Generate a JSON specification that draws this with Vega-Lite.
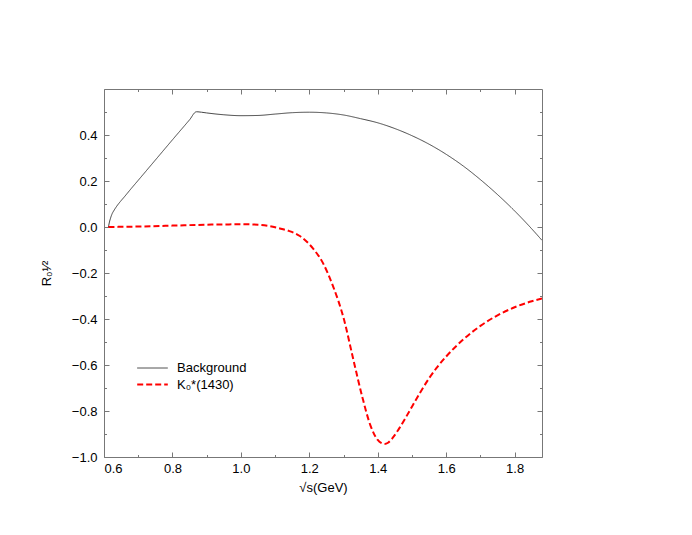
{
  "$schema": "https://vega.github.io/schema/vega-lite/v6.json",
  "autosize": "none",
  "padding": {"left": 104, "top": 89, "right": 150, "bottom": 78},
  "width": 438,
  "height": 368,
  "config": {
    "view": {"stroke": "#777", "strokeWidth": 1},
    "font": "Liberation Sans",
    "axis": {
      "domain": false,
      "grid": false,
      "tickColor": "#777",
      "labelFont": "Liberation Sans",
      "labelFontSize": 13,
      "labelColor": "#000",
      "titleFont": "Liberation Sans",
      "titleFontSize": 13,
      "titleFontWeight": "normal",
      "titleColor": "#000"
    },
    "legend": {"labelFont": "Liberation Sans", "labelFontSize": 13, "labelColor": "#000"}
  },
  "data": {"values": [
    {"x": 0.613, "y": 0.0, "s": "Background"},
    {"x": 0.614, "y": 0.008, "s": "Background"},
    {"x": 0.616, "y": 0.022, "s": "Background"},
    {"x": 0.619, "y": 0.038, "s": "Background"},
    {"x": 0.623, "y": 0.055, "s": "Background"},
    {"x": 0.63, "y": 0.074, "s": "Background"},
    {"x": 0.638, "y": 0.092, "s": "Background"},
    {"x": 0.648, "y": 0.111, "s": "Background"},
    {"x": 0.66, "y": 0.132, "s": "Background"},
    {"x": 0.68, "y": 0.168, "s": "Background"},
    {"x": 0.7, "y": 0.203, "s": "Background"},
    {"x": 0.75, "y": 0.291, "s": "Background"},
    {"x": 0.8, "y": 0.379, "s": "Background"},
    {"x": 0.85, "y": 0.466, "s": "Background"},
    {"x": 0.87, "y": 0.501, "s": "Background"},
    {"x": 0.885, "y": 0.499, "s": "Background"},
    {"x": 0.9, "y": 0.496, "s": "Background"},
    {"x": 0.95, "y": 0.488, "s": "Background"},
    {"x": 1.0, "y": 0.484, "s": "Background"},
    {"x": 1.05, "y": 0.485, "s": "Background"},
    {"x": 1.1, "y": 0.491, "s": "Background"},
    {"x": 1.15, "y": 0.497, "s": "Background"},
    {"x": 1.2, "y": 0.499, "s": "Background"},
    {"x": 1.25, "y": 0.496, "s": "Background"},
    {"x": 1.3, "y": 0.487, "s": "Background"},
    {"x": 1.35, "y": 0.471, "s": "Background"},
    {"x": 1.4, "y": 0.453, "s": "Background"},
    {"x": 1.45, "y": 0.428, "s": "Background"},
    {"x": 1.5, "y": 0.397, "s": "Background"},
    {"x": 1.55, "y": 0.36, "s": "Background"},
    {"x": 1.6, "y": 0.316, "s": "Background"},
    {"x": 1.65, "y": 0.265, "s": "Background"},
    {"x": 1.7, "y": 0.206, "s": "Background"},
    {"x": 1.75, "y": 0.141, "s": "Background"},
    {"x": 1.8, "y": 0.07, "s": "Background"},
    {"x": 1.85, "y": -0.008, "s": "Background"},
    {"x": 1.88, "y": -0.058, "s": "Background"},
    {"x": 0.613, "y": 0.0, "s": "K0"},
    {"x": 0.7, "y": 0.002, "s": "K0"},
    {"x": 0.8, "y": 0.006, "s": "K0"},
    {"x": 0.9, "y": 0.01, "s": "K0"},
    {"x": 0.95, "y": 0.011, "s": "K0"},
    {"x": 1.0, "y": 0.012, "s": "K0"},
    {"x": 1.05, "y": 0.01, "s": "K0"},
    {"x": 1.08, "y": 0.005, "s": "K0"},
    {"x": 1.11, "y": -0.005, "s": "K0"},
    {"x": 1.14, "y": -0.017, "s": "K0"},
    {"x": 1.171, "y": -0.038, "s": "K0"},
    {"x": 1.21, "y": -0.092, "s": "K0"},
    {"x": 1.24, "y": -0.157, "s": "K0"},
    {"x": 1.27, "y": -0.26, "s": "K0"},
    {"x": 1.3, "y": -0.395, "s": "K0"},
    {"x": 1.33, "y": -0.585, "s": "K0"},
    {"x": 1.355, "y": -0.74, "s": "K0"},
    {"x": 1.378, "y": -0.86, "s": "K0"},
    {"x": 1.4, "y": -0.926, "s": "K0"},
    {"x": 1.41, "y": -0.939, "s": "K0"},
    {"x": 1.42, "y": -0.943, "s": "K0"},
    {"x": 1.43, "y": -0.938, "s": "K0"},
    {"x": 1.444, "y": -0.916, "s": "K0"},
    {"x": 1.46, "y": -0.882, "s": "K0"},
    {"x": 1.48, "y": -0.833, "s": "K0"},
    {"x": 1.5, "y": -0.781, "s": "K0"},
    {"x": 1.525, "y": -0.717, "s": "K0"},
    {"x": 1.55, "y": -0.658, "s": "K0"},
    {"x": 1.575, "y": -0.607, "s": "K0"},
    {"x": 1.6, "y": -0.563, "s": "K0"},
    {"x": 1.65, "y": -0.489, "s": "K0"},
    {"x": 1.7, "y": -0.43, "s": "K0"},
    {"x": 1.75, "y": -0.384, "s": "K0"},
    {"x": 1.8, "y": -0.349, "s": "K0"},
    {"x": 1.85, "y": -0.323, "s": "K0"},
    {"x": 1.88, "y": -0.311, "s": "K0"}
  ]},
  "layer": [
    {
      "mark": {"type": "line", "interpolate": "monotone", "clip": true},
      "encoding": {
        "x": {
          "field": "x", "type": "quantitative",
          "scale": {"domain": [0.6, 1.88], "nice": false, "zero": false},
          "axis": {
            "orient": "bottom",
            "offset": -5,
            "title": "√s(GeV)",
            "titlePadding": 6,
            "values": [0.6, 0.7, 0.8, 0.9, 1.0, 1.1, 1.2, 1.3, 1.4, 1.5, 1.6, 1.7, 1.8],
            "labelExpr": "round(datum.value*10)%2==0 ? format(datum.value, '.1f') : ''",
            "tickSize": 5,
            "tickDash": {"condition": {"test": "round(datum.value*10)%2==0", "value": [5, 0]}, "value": [0, 2.5, 2.5, 20]},
            "labelPadding": 5
          }
        },
        "y": {
          "field": "y", "type": "quantitative",
          "scale": {"domain": [-1.0, 0.6], "nice": false, "zero": false},
          "axis": {
            "orient": "left",
            "offset": -5,
            "title": "R₀¹⁄²",
            "titlePadding": 18,
            "values": [-1.0, -0.9, -0.8, -0.7, -0.6, -0.5, -0.4, -0.3, -0.2, -0.1, 0.0, 0.1, 0.2, 0.3, 0.4, 0.5],
            "labelExpr": "round(datum.value*10)%2==0 ? format(datum.value, '.1f') : ''",
            "tickSize": 5,
            "tickDash": {"condition": {"test": "round(datum.value*10)%2==0", "value": [5, 0]}, "value": [0, 2.5, 2.5, 20]},
            "labelPadding": 7
          }
        },
        "color": {
          "field": "s", "type": "nominal",
          "scale": {"domain": ["Background", "K0"], "range": ["#444444", "#ff0000"]},
          "legend": {
            "orient": "none", "legendX": 39, "legendY": 270, "title": null,
            "symbolType": "M-1.8,0H1.8", "symbolSize": 289, "symbolStrokeWidth": 1.5,
            "rowPadding": 0,
            "labelOffset": 15,
            "labelExpr": "datum.label == 'K0' ? 'K₀*(1430)' : datum.label"
          }
        },
        "strokeDash": {
          "field": "s", "type": "nominal",
          "scale": {"domain": ["Background", "K0"], "range": [[1, 0], [6, 3]]},
          "legend": null
        },
        "strokeWidth": {
          "field": "s", "type": "nominal",
          "scale": {"domain": ["Background", "K0"], "range": [1, 2]},
          "legend": null
        }
      }
    },
    {
      "mark": {"type": "line", "opacity": 0},
      "encoding": {
        "x": {
          "field": "x", "type": "quantitative",
          "scale": {"domain": [0.6, 1.88], "nice": false, "zero": false},
          "axis": {
            "orient": "top", "offset": -5, "title": null, "labels": false,
            "values": [0.6, 0.7, 0.8, 0.9, 1.0, 1.1, 1.2, 1.3, 1.4, 1.5, 1.6, 1.7, 1.8],
            "tickSize": 5,
            "tickDash": {"condition": {"test": "round(datum.value*10)%2==0", "value": [5, 0]}, "value": [0, 2.5, 2.5, 20]}
          }
        },
        "y": {
          "field": "y", "type": "quantitative",
          "scale": {"domain": [-1.0, 0.6], "nice": false, "zero": false},
          "axis": {
            "orient": "right", "offset": -5, "title": null, "labels": false,
            "values": [-1.0, -0.9, -0.8, -0.7, -0.6, -0.5, -0.4, -0.3, -0.2, -0.1, 0.0, 0.1, 0.2, 0.3, 0.4, 0.5],
            "tickSize": 5,
            "tickDash": {"condition": {"test": "round(datum.value*10)%2==0", "value": [5, 0]}, "value": [0, 2.5, 2.5, 20]}
          }
        },
        "detail": {"field": "s", "type": "nominal"}
      }
    }
  ],
  "resolve": {"axis": {"x": "independent", "y": "independent"}}
}
